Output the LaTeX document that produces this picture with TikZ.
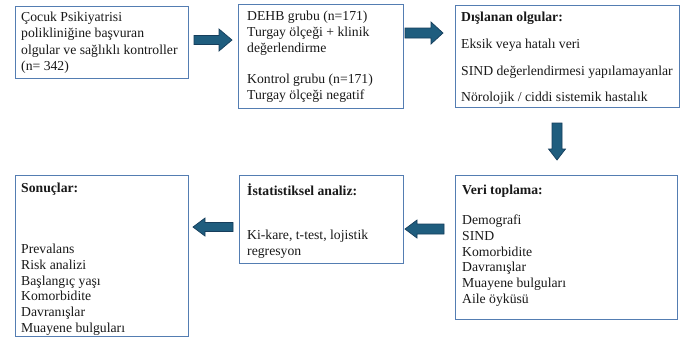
\documentclass[tikz,border=0pt]{standalone}
\usepackage{fontspec}
\setmainfont{Liberation Serif}
\definecolor{boxc}{RGB}{84,125,178}
\definecolor{arrc}{RGB}{31,93,126}
\definecolor{arrd}{RGB}{22,62,92}
\definecolor{txtc}{RGB}{25,25,25}
\begin{document}
\begin{tikzpicture}[x=1pt,y=-1pt,
  box/.style={draw=boxc, line width=1.3pt, fill=white, anchor=north west, inner sep=0pt},
  txt/.style={anchor=north west, inner sep=0pt, align=left, text=txtc, font=\fontsize{13.7}{15.7}\selectfont},
  blk/.style={fill=arrc, draw=arrd, line width=0.7pt, line join=miter}]
\useasboundingbox (0,0) rectangle (685,338);
\fill[white] (0,0) rectangle (685,338);
% boxes
\node[box, minimum width=173pt, minimum height=72pt]  (b1) at (15,6) {};
\node[box, minimum width=165pt, minimum height=104pt] (b2) at (238,4) {};
\node[box, minimum width=224pt, minimum height=102pt] (b3) at (455,5) {};
\node[box, minimum width=222pt, minimum height=144pt] (b6) at (455,175) {};
\node[box, minimum width=164pt, minimum height=88pt]  (b5) at (239,175) {};
\node[box, minimum width=173pt, minimum height=161pt] (b4) at (15,175) {};
% texts
\node[txt] (t1) at (21,10.5) {\strut Çocuk Psikiyatrisi\\[0.6pt]polikliniğine başvuran\\[0.6pt]olgular ve sağlıklı kontroller\\[0.6pt](n= 342)};
\node[txt] (t2) at (247,9.5) {\strut DEHB grubu (n=171)\\Turgay ölçeği + klinik\\değerlendirme\\[15.7pt]Kontrol grubu (n=171)\\Turgay ölçeği negatif};
\node[txt] (t3) at (461,10.5) {\strut\textbf{Dışlanan olgular:}\\[11pt]Eksik veya hatalı veri\\[11pt]SIND değerlendirmesi yapılamayanlar\\[11pt]Nörolojik / ciddi sistemik hastalık};
\node[txt] (t6) at (462,183.5) {\strut\textbf{Veri toplama:}\\[14.3pt]Demografi\\SIND\\Komorbidite\\Davranışlar\\Muayene bulguları\\Aile öyküsü};
\node[txt] (t5) at (247,183.5) {\strut\textbf{İstatistiksel analiz:}\\[28.3pt]Ki-kare, t-test, lojistik\\regresyon};
\node[txt] (t4) at (21,181.5) {\strut\textbf{Sonuçlar:}\\[45.3pt]Prevalans\\Risk analizi\\Başlangıç yaşı\\Komorbidite\\Davranışlar\\Muayene bulguları};
% block arrows
\coordinate (a1) at (194,40);
\draw[blk] (a1) ++(0,-4.5) -- ++(25,0) -- ++(0,-6.5) -- ++(13,11) -- ++(-13,11) -- ++(0,-6.5) -- ++(-25,0) -- cycle;
\coordinate (a2) at (405,33);
\draw[blk] (a2) ++(0,-5) -- ++(26,0) -- ++(0,-6) -- ++(12,11) -- ++(-12,11) -- ++(0,-6) -- ++(-26,0) -- cycle;
\coordinate (a3) at (557,123);
\draw[blk] (a3) ++(-5,0) -- ++(0,26) -- ++(-3.5,0) -- ++(8.5,11) -- ++(8.5,-11) -- ++(-3.5,0) -- ++(0,-26) -- cycle;
\coordinate (a4) at (444,229);
\draw[blk] (a4) ++(0,-5) -- ++(-27,0) -- ++(0,-4) -- ++(-12,9) -- ++(12,9) -- ++(0,-4) -- ++(27,0) -- cycle;
\coordinate (a5) at (233,227);
\draw[blk] (a5) ++(0,-4.5) -- ++(-28,0) -- ++(0,-4.5) -- ++(-12,9) -- ++(12,9) -- ++(0,-4.5) -- ++(28,0) -- cycle;
\end{tikzpicture}
\end{document}
